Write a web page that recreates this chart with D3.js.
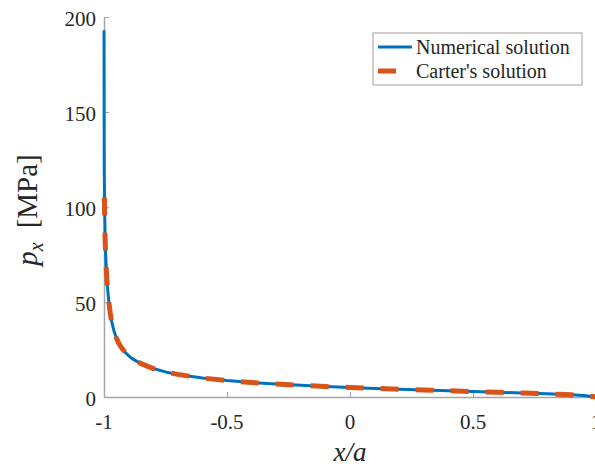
<!DOCTYPE html>
<html>
<head>
<meta charset="utf-8">
<script src="https://cdn.jsdelivr.net/npm/d3@7"></script>
<style>
  html, body { margin: 0; padding: 0; background: #fff; }
  svg { display: block; }
  text { font-family: "Liberation Serif", "Times New Roman", serif; fill: #262626; }
</style>
</head>
<body>
<svg id="chart" width="595" height="468"></svg>
<script>
// Contact pressure along the contact zone, x/a from -1 to 1
const numX = [-1, -0.999, -0.997, -0.995, -0.993, -0.99, -0.987, -0.984, -0.98, -0.975, -0.97, -0.96, -0.95, -0.94, -0.93, -0.91, -0.89, -0.87, -0.85, -0.82, -0.8, -0.75, -0.7, -0.65, -0.6, -0.5, -0.4, -0.3, -0.2, -0.1, 0, 0.1, 0.2, 0.3, 0.4, 0.5, 0.6, 0.7, 0.8, 0.9, 0.95, 1];
const numP = [193, 120, 95, 82, 74, 66, 60, 55, 50, 45, 40.5, 35, 31.2, 28.3, 26.1, 22.9, 20.6, 19.0, 17.6, 16.0, 15.0, 13.2, 11.9, 10.9, 10.0, 8.66, 7.64, 6.81, 6.12, 5.53, 5.0, 4.52, 4.08, 3.67, 3.27, 2.89, 2.50, 2.10, 1.67, 1.15, 0.80, 0];

const cartX = [-0.9985, -0.997, -0.995, -0.993, -0.99, -0.987, -0.984, -0.98, -0.975, -0.97, -0.96, -0.95, -0.94, -0.93, -0.91, -0.89, -0.87, -0.85, -0.82, -0.8, -0.75, -0.7, -0.65, -0.6, -0.5, -0.4, -0.3, -0.2, -0.1, 0, 0.1, 0.2, 0.3, 0.4, 0.5, 0.6, 0.7, 0.8, 0.9, 0.95, 1];
const cartP = [105, 93, 81, 73, 65.5, 59.5, 54.5, 49.7, 44.6, 40.3, 34.6, 31.2, 28.3, 26.1, 22.9, 20.6, 19.0, 17.6, 16.0, 15.0, 13.2, 11.9, 10.9, 10.0, 8.66, 7.64, 6.81, 6.12, 5.53, 5.0, 4.52, 4.08, 3.67, 3.27, 2.89, 2.50, 2.10, 1.67, 1.15, 0.80, 0];

const xTicks = [-1, -0.5, 0, 0.5, 1];
const xTickLabels = ["-1", "-0.5", "0", "0.5", "1"];
const yTicks = [0, 50, 100, 150, 200];
const yTickLabels = ["0", "50", "100", "150", "200"];
const seriesNames = ["Numerical solution", "Carter's solution"];
const seriesColors = ["#0072BD", "#D95319"];

const svg = d3.select("#chart");
const x = d3.scaleLinear().domain([-1, 1]).range([104, 596]);
const y = d3.scaleLinear().domain([0, 200]).range([397, 17]);

const axisColor = "#a6a6a6";

// Axes: left and bottom only, ticks pointing inward
const gx = svg.append("g").attr("transform", `translate(0,${y(0)})`)
  .call(d3.axisBottom(x).tickValues(xTicks).tickSize(0).tickFormat(""));
gx.select(".domain").attr("stroke", axisColor).attr("stroke-width", 1.5);
gx.selectAll(".tick").append("line").attr("y1", 0).attr("y2", -5).attr("stroke", axisColor).attr("stroke-width", 1);

const gy = svg.append("g").attr("transform", `translate(${x(-1)},0)`)
  .call(d3.axisLeft(y).tickValues(yTicks).tickSize(0).tickFormat(""));
gy.select(".domain").attr("stroke", axisColor).attr("stroke-width", 1.5);
gy.selectAll(".tick").append("line").attr("x1", 0).attr("x2", 5).attr("stroke", axisColor).attr("stroke-width", 1);

// Tick labels
svg.append("g").selectAll("text").data(xTicks).join("text")
  .attr("x", d => x(d)).attr("y", 429)
  .attr("text-anchor", "middle").attr("font-size", 21)
  .text((d, i) => xTickLabels[i]);
svg.append("g").selectAll("text").data(yTicks).join("text")
  .attr("x", 96).attr("y", d => y(d) + 9)
  .attr("text-anchor", "end").attr("font-size", 21)
  .text((d, i) => yTickLabels[i]);

// Curves
const line = d3.line().x(d => x(d[0])).y(d => y(d[1]));
svg.append("path").datum(numX.map((v, i) => [v, numP[i]]))
  .attr("d", line).attr("fill", "none")
  .attr("stroke", seriesColors[0]).attr("stroke-width", 3)
  .attr("stroke-linejoin", "round");
svg.append("path").datum(cartX.map((v, i) => [v, cartP[i]]))
  .attr("d", line).attr("fill", "none")
  .attr("stroke", seriesColors[1]).attr("stroke-width", 5)
  .attr("stroke-dasharray", "18,17");

// Axis titles
svg.append("text").attr("x", 350).attr("y", 461)
  .attr("text-anchor", "middle").attr("font-size", 27).attr("font-style", "italic")
  .text("x/a");

const yl = svg.append("text")
  .attr("transform", "translate(37,210) rotate(-90)")
  .attr("text-anchor", "middle").attr("font-size", 29);
yl.append("tspan").attr("font-style", "italic").text("p");
yl.append("tspan").attr("font-style", "italic").attr("font-size", 20).attr("dy", 6).text("x");
yl.append("tspan").attr("dy", -6).attr("dx", 14).text("[MPa]");

// Legend
const lg = svg.append("g");
lg.append("rect").attr("x", 373).attr("y", 33).attr("width", 209).attr("height", 52)
  .attr("fill", "#fff").attr("stroke", "#a0a0a0").attr("stroke-width", 1);
seriesNames.forEach((name, i) => {
  const cy = 47 + i * 24;
  lg.append("line").attr("x1", 378).attr("x2", 412).attr("y1", cy).attr("y2", cy)
    .attr("stroke", seriesColors[i]).attr("stroke-width", i === 0 ? 3 : 5)
    .attr("stroke-dasharray", i === 0 ? null : "18,17");
  lg.append("text").attr("x", 416).attr("y", cy + 7).attr("font-size", 20).text(name);
});
</script>
</body>
</html>
